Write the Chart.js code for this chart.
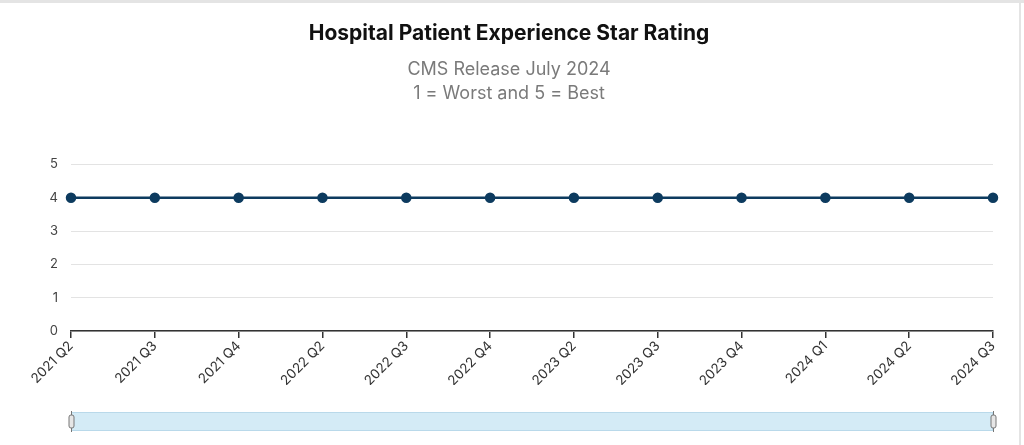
<!DOCTYPE html>
<html>
<head>
<meta charset="utf-8">
<script src="https://cdn.jsdelivr.net/npm/chart.js@4"></script>
<style>
  html, body { margin: 0; padding: 0; background: #fff; }
  #wrap { position: relative; width: 1024px; height: 445px; overflow: hidden; }
  #c { position: absolute; left: 0; top: 0; }
  #topb { position: absolute; left: 0; top: 0; width: 1024px; height: 3px; background: #e4e4e4; }
  #rightb { position: absolute; left: 1019px; top: 0; width: 2px; height: 445px; background: #e4e4e4; }
</style>
</head>
<body>
<div id="wrap">
  <canvas id="c" width="1024" height="445"></canvas>
  <div id="topb"></div>
  <div id="rightb"></div>
</div>
<script>
const categories = ['2021 Q2','2021 Q3','2021 Q4','2022 Q2','2022 Q3','2022 Q4','2023 Q2','2023 Q3','2023 Q4','2024 Q1','2024 Q2','2024 Q3'];
const starRating = [4,4,4,4,4,4,4,4,4,4,4,4];
const yTicks = [0,1,2,3,4,5];

const lineColor = '#0d3b5f';

const navigator = {
  id: 'navigator',
  afterDraw(chart) {
    const ctx = chart.ctx;
    const x = chart.scales.x;
    const top = 412, h = 19;
    ctx.save();
    ctx.fillStyle = '#d4ebf6';
    ctx.fillRect(x.left, top, x.right - x.left, h);
    ctx.strokeStyle = '#b9d9ea';
    ctx.lineWidth = 1;
    ctx.strokeRect(x.left + 0.5, top + 0.5, x.right - x.left - 1, h - 1);
    [x.left, x.right].forEach(px => {
      ctx.strokeStyle = '#777';
      ctx.lineWidth = 1;
      ctx.beginPath();
      ctx.moveTo(Math.round(px) + 0.5, top - 1);
      ctx.lineTo(Math.round(px) + 0.5, top + h + 1);
      ctx.stroke();
      ctx.fillStyle = '#e6e6e6';
      ctx.beginPath();
      ctx.roundRect(Math.round(px) - 2, top + 3, 5, 13, 2);
      ctx.fill();
      ctx.stroke();
    });
    ctx.restore();
  }
};

new Chart(document.getElementById('c'), {
  type: 'line',
  data: {
    labels: categories,
    datasets: [{
      label: 'Star Rating',
      data: starRating,
      borderColor: lineColor,
      backgroundColor: lineColor,
      borderWidth: 2.5,
      pointRadius: 4,
      pointHoverRadius: 4,
      pointBackgroundColor: lineColor,
      pointBorderColor: lineColor,
      tension: 0
    }]
  },
  options: {
    responsive: false,
    animation: false,
    layout: { padding: { left: 25, right: 31, top: 0, bottom: 60 } },
    plugins: {
      legend: { display: false },
      tooltip: { enabled: false },
      title: {
        display: true,
        text: 'Hospital Patient Experience Star Rating',
        color: '#111',
        font: { family: 'Inter', size: 21, weight: 'bold', lineHeight: 1.2 },
        padding: { top: 21, bottom: 11 }
      },
      subtitle: {
        display: true,
        text: ['CMS Release July 2024', '1 = Worst and 5 = Best'],
        color: '#7a7a7a',
        font: { family: 'Inter', size: 18, lineHeight: 1.34 },
        padding: { top: 0, bottom: 59 }
      }
    },
    scales: {
      x: {
        offset: false,
        grid: { drawOnChartArea: false, drawTicks: true, tickLength: 7, color: '#333', lineWidth: 1.5 },
        border: { display: true, color: '#333', width: 1.5 },
        ticks: {
          color: '#333',
          font: { family: 'Inter', size: 13.5 },
          maxRotation: 45, minRotation: 45,
          autoSkip: false,
          padding: 0
        },
        afterFit(scale) { scale.height = 54; }
      },
      y: {
        min: 0, max: 5,
        afterBuildTicks(scale) { scale.ticks = yTicks.map(v => ({ value: v })); },
        grid: { color: '#e3e3e3', lineWidth: 1, drawTicks: false },
        border: { display: false },
        ticks: {
          color: '#444',
          font: { family: 'Inter', size: 13 },
          padding: 13
        },
        afterFit(scale) { scale.width = 46; }
      }
    }
  },
  plugins: [navigator]
});
</script>
</body>
</html>
